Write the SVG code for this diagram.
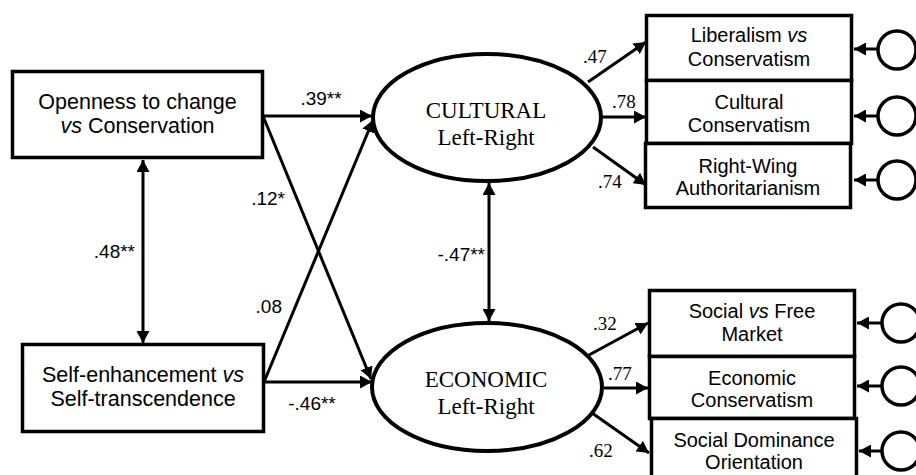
<svg xmlns="http://www.w3.org/2000/svg" width="916" height="475" viewBox="0 0 916 475">
<style>
.box{fill:#fff;stroke:#000;stroke-width:3.5}
.lat{fill:#fff;stroke:#000;stroke-width:4}
.err{fill:#fff;stroke:#000;stroke-width:3.5}
.t{font-family:"Liberation Sans",Arial,sans-serif;fill:#000}
.s{font-family:"Liberation Serif","Times New Roman",serif;fill:#000}
.c{text-anchor:middle}
.e{text-anchor:end}
.ln{stroke:#000;stroke-width:3;fill:none;marker-end:url(#ah)}
.dl{stroke:#000;stroke-width:3;fill:none;marker-end:url(#ah);marker-start:url(#ah)}
</style>
<defs>
<marker id="ah" markerUnits="userSpaceOnUse" markerWidth="13" markerHeight="13" refX="12" refY="6.5" orient="auto-start-reverse">
<path d="M0,0 L12,6.5 L0,13 z" fill="#000"/>
</marker>
</defs>
<rect width="916" height="475" fill="#fff"/>
<g id="connectors">
<line class="ln" x1="263" y1="116" x2="372" y2="116"/>
<line class="ln" x1="264" y1="382" x2="372" y2="382"/>
<line class="ln" x1="263" y1="116" x2="371" y2="379"/>
<line class="ln" x1="264" y1="382" x2="373" y2="120"/>
<line class="dl" x1="143" y1="160" x2="143" y2="343"/>
<line class="dl" x1="489" y1="183" x2="489" y2="321"/>
<line class="ln" x1="588" y1="82" x2="646" y2="42"/>
<line class="ln" x1="603" y1="117" x2="646" y2="117"/>
<line class="ln" x1="593" y1="147" x2="646" y2="185"/>
<line class="ln" x1="589" y1="355" x2="648" y2="323"/>
<line class="ln" x1="604" y1="388" x2="648" y2="388"/>
<line class="ln" x1="592" y1="413" x2="649" y2="453"/>
<line class="ln" x1="878" y1="49" x2="854" y2="49"/>
<line class="ln" x1="878" y1="116" x2="854" y2="116"/>
<line class="ln" x1="878" y1="180" x2="854" y2="180"/>
<line class="ln" x1="882" y1="323" x2="857" y2="323"/>
<line class="ln" x1="882" y1="386" x2="857" y2="386"/>
<line class="ln" x1="882" y1="451" x2="859" y2="451"/>
<text class="t c" x="321" y="105" font-size="19">.39**</text>
<text class="t c" x="312" y="410" font-size="19">-.46**</text>
<text class="t e" x="285" y="205" font-size="19">.12*</text>
<text class="t e" x="282" y="313" font-size="19">.08</text>
<text class="t e" x="135" y="258" font-size="19">.48**</text>
<text class="t e" x="485" y="261" font-size="19">-.47**</text>
<text class="s" x="583" y="63" font-size="19">.47</text>
<text class="s" x="612" y="108" font-size="19">.78</text>
<text class="s" x="598" y="188" font-size="19">.74</text>
<text class="s" x="593" y="330" font-size="19">.32</text>
<text class="s" x="608" y="380" font-size="19">.77</text>
<text class="s" x="589" y="457" font-size="19">.62</text>
</g>
<g id="openness">
<rect class="box" x="12.5" y="71.5" width="250" height="86"/>
<text class="t c" x="137.5" y="109" font-size="21.5">Openness to change</text>
<text class="t c" x="137.5" y="133" font-size="21.5"><tspan font-style="italic">vs</tspan> Conservation</text>
</g>
<g id="selfenh">
<rect class="box" x="22.5" y="344.5" width="241" height="87"/>
<text class="t c" x="143" y="382" font-size="21.5">Self-enhancement <tspan font-style="italic">vs</tspan></text>
<text class="t c" x="143" y="406" font-size="21.5">Self-transcendence</text>
</g>
<g id="cultural">
<ellipse class="lat" cx="487" cy="117.5" rx="114" ry="63.5"/>
<text class="s c" x="486" y="118" font-size="23">CULTURAL</text>
<text class="s c" x="486" y="145" font-size="23">Left-Right</text>
</g>
<g id="economic">
<ellipse class="lat" cx="487" cy="387" rx="115" ry="64"/>
<text class="s c" x="486" y="387" font-size="23">ECONOMIC</text>
<text class="s c" x="486" y="414" font-size="23">Left-Right</text>
</g>
<g id="liberalism">
<rect class="box" x="646.5" y="15.5" width="205" height="65"/>
<text class="t c" x="749" y="42" font-size="20">Liberalism <tspan font-style="italic">vs</tspan></text>
<text class="t c" x="749" y="66" font-size="20">Conservatism</text>
</g>
<g id="culturalcons">
<rect class="box" x="646.5" y="80.5" width="205" height="63"/>
<text class="t c" x="749" y="109" font-size="20">Cultural</text>
<text class="t c" x="749" y="132" font-size="20">Conservatism</text>
</g>
<g id="rwa">
<rect class="box" x="645.5" y="143.5" width="205" height="64"/>
<text class="t c" x="748" y="173" font-size="20">Right-Wing</text>
<text class="t c" x="748" y="195" font-size="20">Authoritarianism</text>
</g>
<g id="socialfree">
<rect class="box" x="649.5" y="290.5" width="205" height="66"/>
<text class="t c" x="752" y="318" font-size="20">Social <tspan font-style="italic">vs</tspan> Free</text>
<text class="t c" x="752" y="341" font-size="20">Market</text>
</g>
<g id="econcons">
<rect class="box" x="649.5" y="356.5" width="205" height="62"/>
<text class="t c" x="752" y="385" font-size="20">Economic</text>
<text class="t c" x="752" y="407" font-size="20">Conservatism</text>
</g>
<g id="sdo">
<rect class="box" x="651.5" y="418.5" width="205" height="62"/>
<text class="t c" x="754" y="447" font-size="20">Social Dominance</text>
<text class="t c" x="754" y="469" font-size="20">Orientation</text>
</g>
<g id="errors">
<circle class="err" cx="897" cy="50" r="19"/>
<circle class="err" cx="897" cy="116" r="19"/>
<circle class="err" cx="897" cy="180" r="19"/>
<circle class="err" cx="901" cy="323" r="19"/>
<circle class="err" cx="901" cy="386" r="19"/>
<circle class="err" cx="901" cy="451" r="19"/>
</g>
</svg>
